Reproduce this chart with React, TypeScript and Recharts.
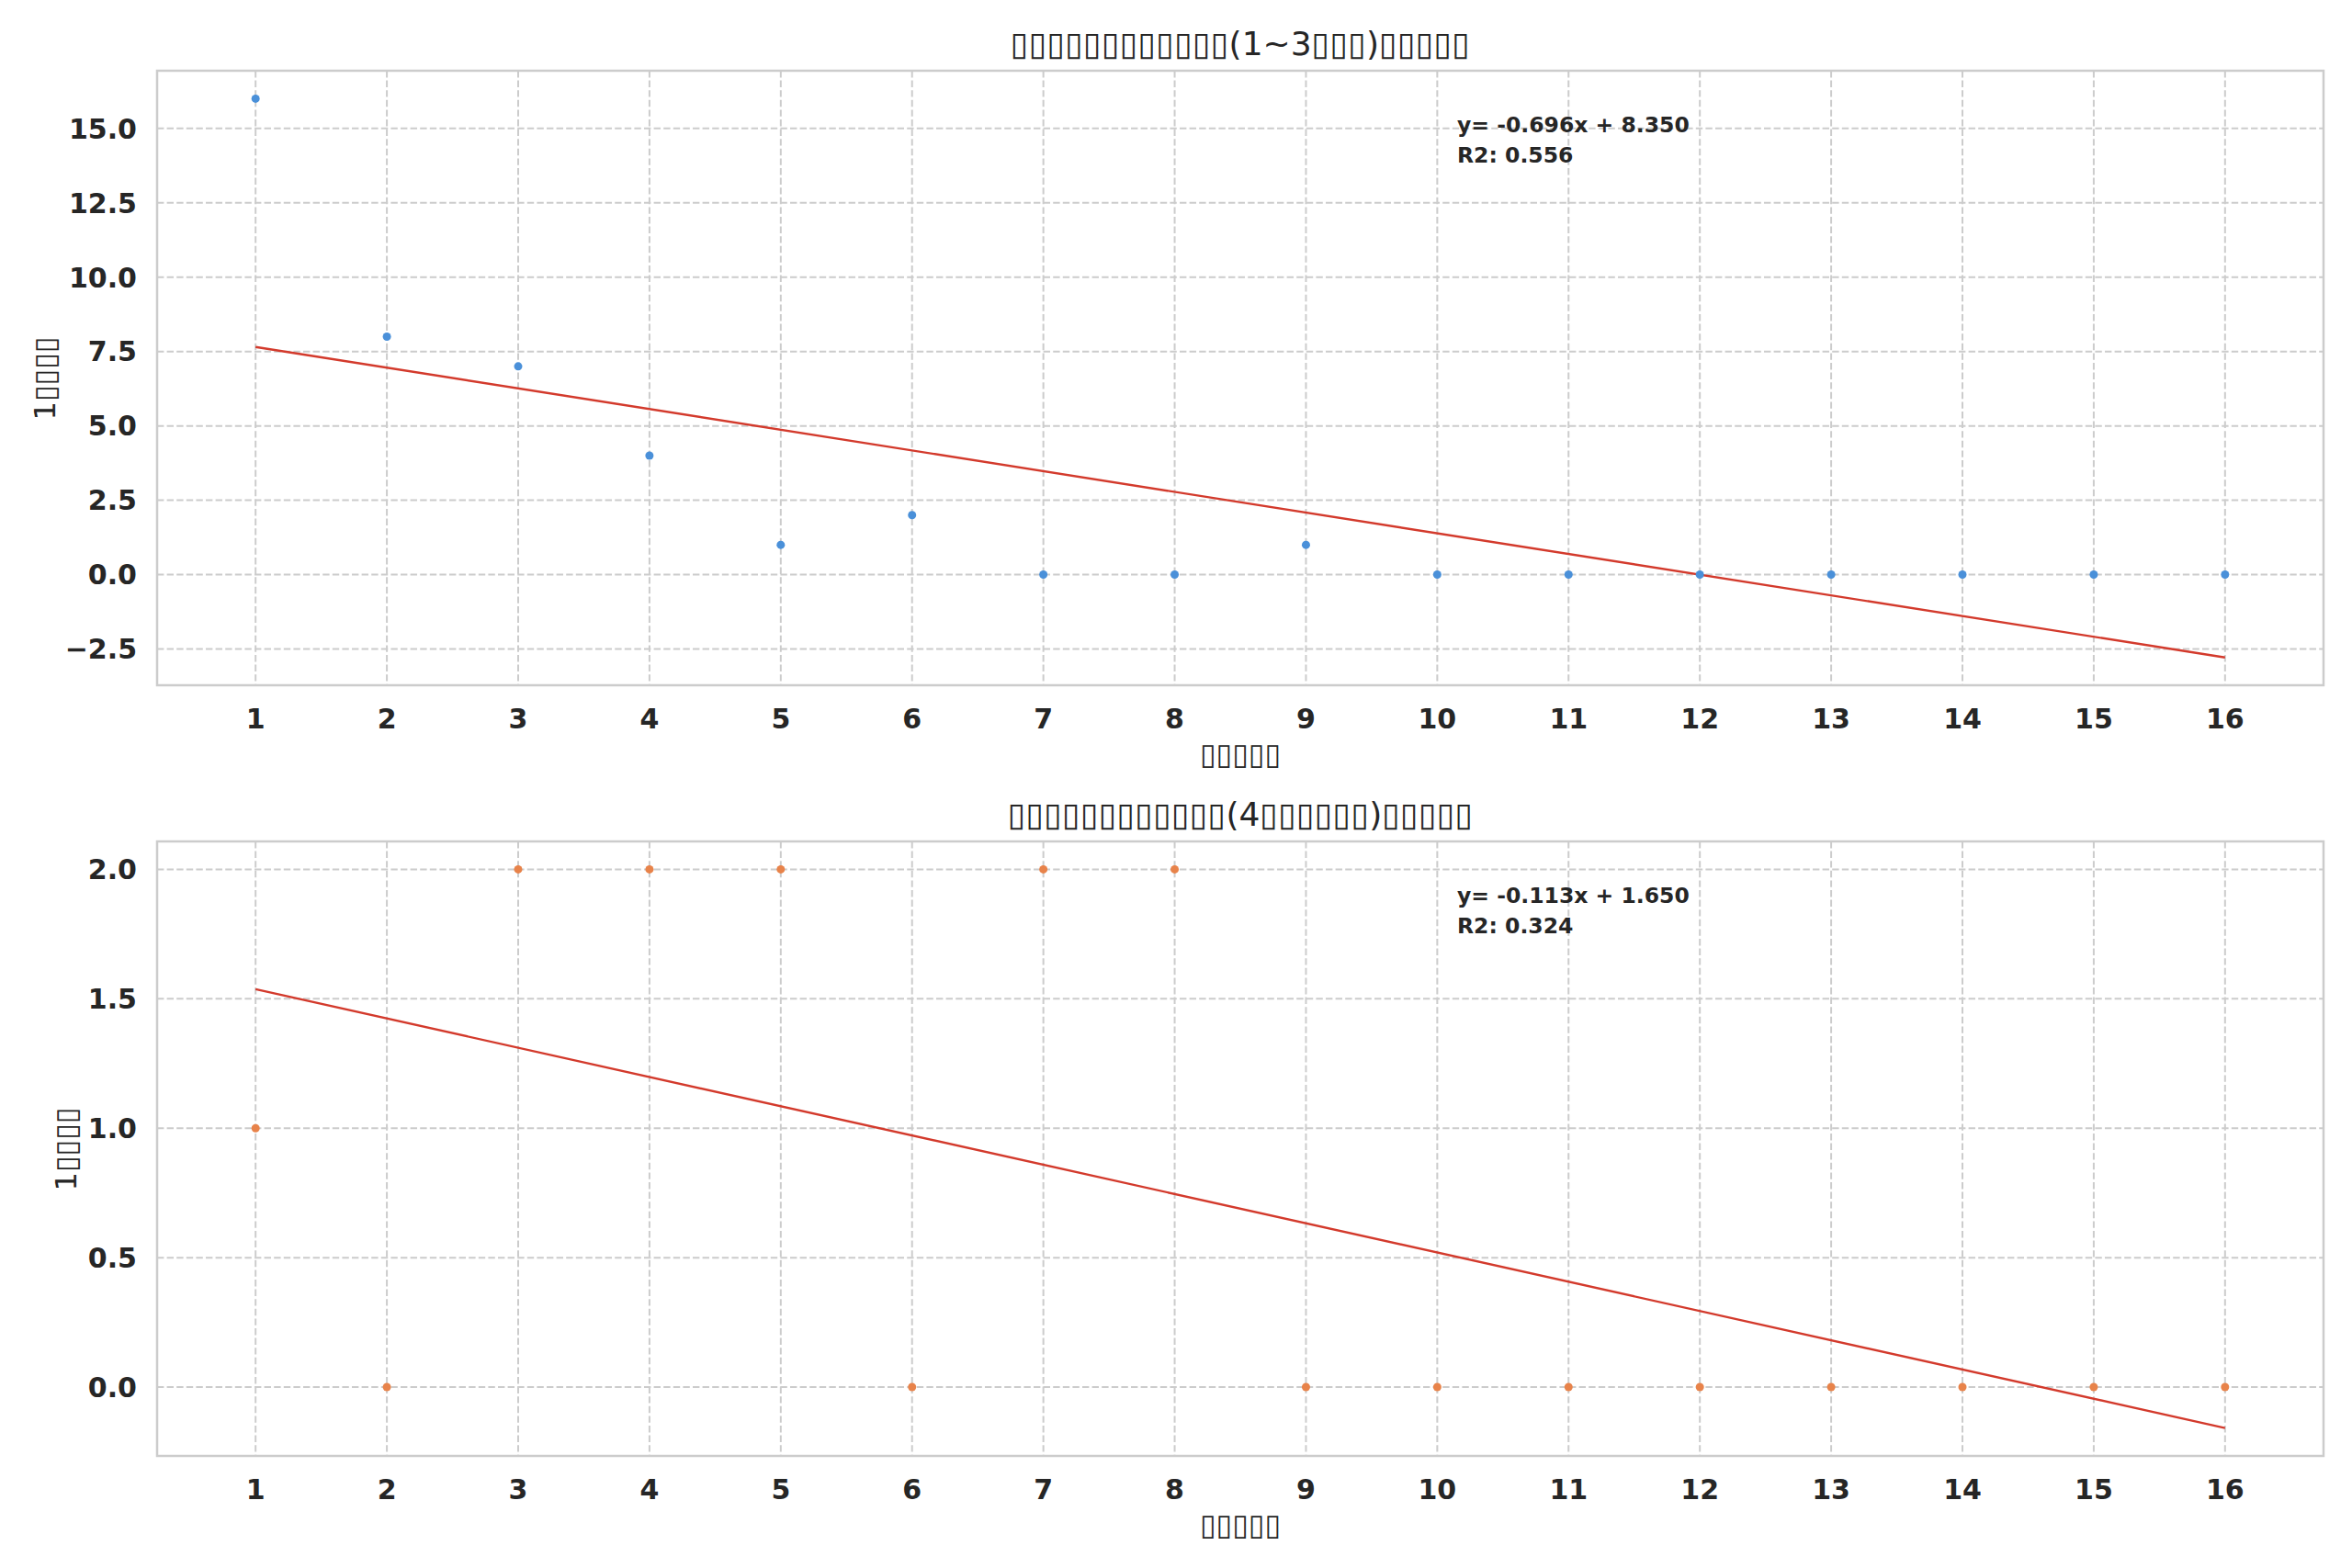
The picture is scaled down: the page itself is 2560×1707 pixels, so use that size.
import React from 'react';
import { ComposedChart, Scatter, XAxis, YAxis, CartesianGrid, ReferenceArea } from 'recharts';

// ---- data ----
const weeks = [1, 2, 3, 4, 5, 6, 7, 8, 9, 10, 11, 12, 13, 14, 15, 16];
const countsEarly = [16, 8, 7, 4, 1, 2, 0, 0, 1, 0, 0, 0, 0, 0, 0, 0];
const countsLate = [1, 0, 2, 2, 2, 0, 2, 2, 0, 0, 0, 0, 0, 0, 0, 0];
const fitEarly = [
  { x: 1, y: 7.654 },
  { x: 16, y: -2.786 },
];
const fitLate = [
  { x: 1, y: 1.537 },
  { x: 16, y: -0.158 },
];
const yTicksEarly = [-2.5, 0, 2.5, 5, 7.5, 10, 12.5, 15];
const yTicksLate = [0, 0.5, 1, 1.5, 2];
const xDomain: [number, number] = [0.25, 16.75];
const yDomainEarly: [number, number] = [-3.72, 16.94];
const yDomainLate: [number, number] = [-0.266, 2.108];

const titleEarly = '▯▯▯▯▯▯▯▯▯▯▯▯(1~3▯▯▯)▯▯▯▯▯';
const titleLate = '▯▯▯▯▯▯▯▯▯▯▯▯(4▯▯▯▯▯▯)▯▯▯▯▯';
const xLabel = '▯▯▯▯▯';
const yLabel = '1▯▯▯▯';
const eqEarly = ['y= -0.696x + 8.350', 'R2: 0.556'];
const eqLate = ['y= -0.113x + 1.650', 'R2: 0.324'];

const pointsEarly = weeks.map((w, i) => ({ x: w, y: countsEarly[i] }));
const pointsLate = weeks.map((w, i) => ({ x: w, y: countsLate[i] }));

// ---- styles ----
const FONT = '"DejaVu Sans", sans-serif';
const TEXT = '#262626';
const GRID = '#cccccc';
const BLUE = '#4a90d9';
const ORANGE = '#e8834a';
const RED = '#d33a2c';

const fmtY = (v: number) => (v < 0 ? '\u2212' + Math.abs(v).toFixed(1) : v.toFixed(1));

const XTick = (props: any) => {
  const { x, y, payload } = props;
  return (
    <text x={x} y={y + 47} textAnchor="middle" fill={TEXT} fontFamily={FONT} fontWeight="bold" fontSize={30}>
      {payload.value}
    </text>
  );
};

const YTick = (props: any) => {
  const { x, y, payload } = props;
  return (
    <text x={x - 22} y={y} dy="0.36em" textAnchor="end" fill={TEXT} fontFamily={FONT} fontWeight="bold" fontSize={30}>
      {fmtY(payload.value)}
    </text>
  );
};

const Dot = (color: string) => (props: any) => {
  const { cx, cy } = props;
  if (cx == null || cy == null) return null;
  return <circle cx={cx} cy={cy} r={4.5} fill={color} />;
};

const NoShape = () => null;

type PanelProps = {
  top: number;
  points: { x: number; y: number }[];
  fit: { x: number; y: number }[];
  yTicks: number[];
  yDomain: [number, number];
  color: string;
  title: string;
  eq: string[];
  yLabelX: number;
};

const CH = 853;
const PLOT_TOP = 77;
const PLOT_LEFT = 171;
const PLOT_RIGHT = 2529;
const PLOT_BOTTOM = 746;

const Panel = ({ top, points, fit, yTicks, yDomain, color, title, eq, yLabelX }: PanelProps) => {
  const plotCy = (PLOT_TOP + PLOT_BOTTOM) / 2;
  return (
    <div style={{ position: 'absolute', left: 0, top, width: 2560, height: CH }}>
      <ComposedChart
        width={2560}
        height={CH}
        margin={{ top: PLOT_TOP, right: 2560 - PLOT_RIGHT, bottom: 17, left: PLOT_LEFT - 100 }}
      >
        <CartesianGrid stroke={GRID} strokeWidth={2} strokeDasharray="7.4 3.2" />
        <XAxis
          dataKey="x"
          type="number"
          domain={xDomain}
          ticks={weeks}
          allowDataOverflow
          height={90}
          axisLine={false}
          tickLine={false}
          tickSize={0}
          tickMargin={0}
          interval={0}
          tick={<XTick />}
        />
        <YAxis
          dataKey="y"
          type="number"
          domain={yDomain}
          ticks={yTicks}
          allowDataOverflow
          width={100}
          axisLine={false}
          tickLine={false}
          tickSize={0}
          tickMargin={0}
          interval={0}
          tick={<YTick />}
        />
        <ReferenceArea
          x1={xDomain[0]}
          x2={xDomain[1]}
          y1={yDomain[0]}
          y2={yDomain[1]}
          fill="none"
          fillOpacity={0}
          stroke={GRID}
          strokeWidth={2.5}
          ifOverflow="visible"
        />
        <Scatter data={fit} line={{ stroke: RED, strokeWidth: 2.4 }} shape={<NoShape />} isAnimationActive={false} />
        <Scatter data={points} shape={Dot(color)} isAnimationActive={false} />
      </ComposedChart>
      <div
        style={{
          position: 'absolute',
          left: PLOT_LEFT,
          width: PLOT_RIGHT - PLOT_LEFT,
          top: 48 - 22,
          height: 44,
          lineHeight: '44px',
          textAlign: 'center',
          fontFamily: FONT,
          fontSize: 36,
          color: TEXT,
          whiteSpace: 'nowrap',
        }}
      >
        {title}
      </div>
      <div
        style={{
          position: 'absolute',
          left: PLOT_LEFT,
          width: PLOT_RIGHT - PLOT_LEFT,
          top: 821 - 20,
          height: 40,
          lineHeight: '40px',
          textAlign: 'center',
          fontFamily: FONT,
          fontSize: 32,
          color: TEXT,
          whiteSpace: 'nowrap',
        }}
      >
        {xLabel}
      </div>
      <div
        style={{
          position: 'absolute',
          left: yLabelX - 200,
          top: plotCy - 20,
          width: 400,
          height: 40,
          lineHeight: '40px',
          textAlign: 'center',
          fontFamily: FONT,
          fontSize: 32,
          color: TEXT,
          whiteSpace: 'nowrap',
          transform: 'rotate(-90deg)',
        }}
      >
        {yLabel}
      </div>
      <div
        style={{
          position: 'absolute',
          left: 1586,
          top: PLOT_TOP + 60 - 17,
          fontFamily: FONT,
          fontSize: 23.5,
          fontWeight: 'bold',
          color: TEXT,
          lineHeight: '33px',
          whiteSpace: 'nowrap',
        }}
      >
        <div>{eq[0]}</div>
        <div>{eq[1]}</div>
      </div>
    </div>
  );
};

export default function App() {
  return (
    <div style={{ position: 'absolute', left: 0, top: 0, width: 2560, height: 1707, background: '#ffffff' }}>
      <Panel
        top={0}
        points={pointsEarly}
        fit={fitEarly}
        yTicks={yTicksEarly}
        yDomain={yDomainEarly}
        color={BLUE}
        title={titleEarly}
        eq={eqEarly}
        yLabelX={49}
      />
      <Panel
        top={839}
        points={pointsLate}
        fit={fitLate}
        yTicks={yTicksLate}
        yDomain={yDomainLate}
        color={ORANGE}
        title={titleLate}
        eq={eqLate}
        yLabelX={72}
      />
    </div>
  );
}
